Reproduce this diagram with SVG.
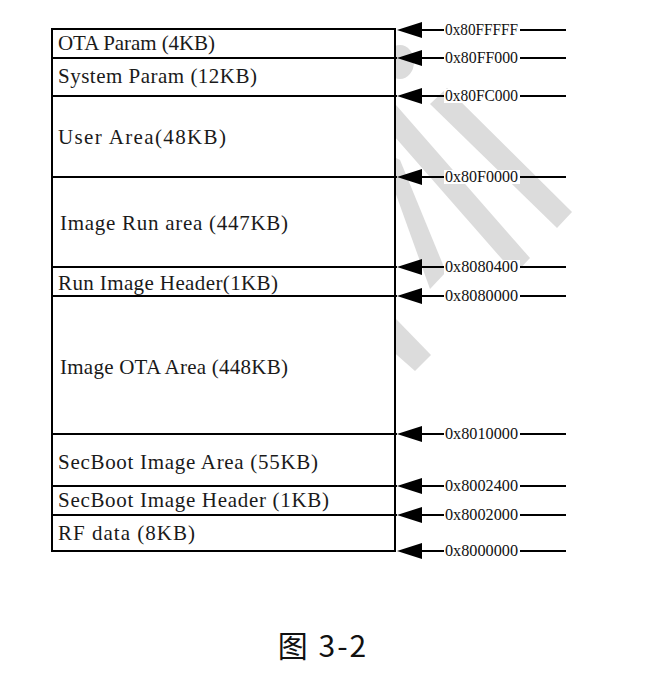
<svg xmlns="http://www.w3.org/2000/svg" width="646" height="678" viewBox="0 0 646 678">
<style>
.wm{fill:#dcdcdc}
.div{stroke:#000;stroke-width:2;fill:none}
.t{font-family:"Liberation Serif",serif;font-size:21px;fill:#1a1a1a}
.lbl{font-family:"Liberation Serif",serif;font-size:17px;fill:#111}
.ln{stroke:#000;stroke-width:2}
.ah{fill:#000}
.bg{fill:#fff}
.cap{font-family:"Noto Sans CJK SC","Noto Sans",sans-serif;font-size:30px;fill:#111;letter-spacing:2px}
</style>
<rect width="646" height="678" fill="#fff"/>
<g id="watermark">
<ellipse class="wm" cx="400" cy="62" rx="14" ry="17"/>
<polygon class="wm" points="430,104 447,88 572,212 557,228"/>
<polygon class="wm" points="380,120 396,105 530,258 515,274"/>
<polygon class="wm" points="380,150 400,160 446,272 430,289"/>
<polygon class="wm" points="380,305 397,320 431,355 415,371 380,340"/>
</g>
<g id="memory-map">
<rect x="52" y="29" width="343" height="522" fill="#fff" stroke="#000" stroke-width="2"/>
<g id="ota-param"><text class="t" x="58" y="50" textLength="157" lengthAdjust="spacing">OTA Param (4KB)</text></g>
<line class="div" x1="52" y1="58" x2="397" y2="58"/>
<g id="system-param"><text class="t" x="58" y="83" textLength="199" lengthAdjust="spacing">System Param (12KB)</text></g>
<line class="div" x1="52" y1="96" x2="397" y2="96"/>
<g id="user-area"><text class="t" x="58" y="144" textLength="168" lengthAdjust="spacing">User Area(48KB)</text></g>
<line class="div" x1="52" y1="177" x2="397" y2="177"/>
<g id="image-run-area"><text class="t" x="60" y="230" textLength="228" lengthAdjust="spacing">Image Run area (447KB)</text></g>
<line class="div" x1="52" y1="267" x2="397" y2="267"/>
<g id="run-image-header"><text class="t" x="58" y="290" textLength="220" lengthAdjust="spacing">Run Image Header(1KB)</text></g>
<line class="div" x1="52" y1="296" x2="397" y2="296"/>
<g id="image-ota-area"><text class="t" x="60" y="374" textLength="228" lengthAdjust="spacing">Image OTA Area (448KB)</text></g>
<line class="div" x1="52" y1="434" x2="397" y2="434"/>
<g id="secboot-image-area"><text class="t" x="58" y="469" textLength="260" lengthAdjust="spacing">SecBoot Image Area (55KB)</text></g>
<line class="div" x1="52" y1="486" x2="397" y2="486"/>
<g id="secboot-image-header"><text class="t" x="58" y="507" textLength="271" lengthAdjust="spacing">SecBoot Image Header (1KB)</text></g>
<line class="div" x1="52" y1="515" x2="397" y2="515"/>
<g id="rf-data"><text class="t" x="58" y="540" textLength="137" lengthAdjust="spacing">RF data (8KB)</text></g>
</g>
<g id="connectors">
<g transform="translate(0,30)"><line class="ln" x1="420" y1="0" x2="566" y2="0"/><rect class="bg" x="444" y="-7" width="76" height="14"/><polygon class="ah" points="397,0 422,-8 422,8"/><text class="lbl" x="445" y="5" textLength="73" lengthAdjust="spacingAndGlyphs">0x80FFFFF</text></g>
<g transform="translate(0,58)"><line class="ln" x1="420" y1="0" x2="566" y2="0"/><rect class="bg" x="444" y="-7" width="76" height="14"/><polygon class="ah" points="397,0 422,-8 422,8"/><text class="lbl" x="445" y="5" textLength="73" lengthAdjust="spacingAndGlyphs">0x80FF000</text></g>
<g transform="translate(0,96)"><line class="ln" x1="420" y1="0" x2="566" y2="0"/><rect class="bg" x="444" y="-7" width="76" height="14"/><polygon class="ah" points="397,0 422,-8 422,8"/><text class="lbl" x="445" y="5" textLength="73" lengthAdjust="spacingAndGlyphs">0x80FC000</text></g>
<g transform="translate(0,177)"><line class="ln" x1="420" y1="0" x2="566" y2="0"/><rect class="bg" x="444" y="-7" width="76" height="14"/><polygon class="ah" points="397,0 422,-8 422,8"/><text class="lbl" x="445" y="5" textLength="73" lengthAdjust="spacingAndGlyphs">0x80F0000</text></g>
<g transform="translate(0,267)"><line class="ln" x1="420" y1="0" x2="566" y2="0"/><rect class="bg" x="444" y="-7" width="76" height="14"/><polygon class="ah" points="397,0 422,-8 422,8"/><text class="lbl" x="445" y="5" textLength="73" lengthAdjust="spacingAndGlyphs">0x8080400</text></g>
<g transform="translate(0,296)"><line class="ln" x1="420" y1="0" x2="566" y2="0"/><rect class="bg" x="444" y="-7" width="76" height="14"/><polygon class="ah" points="397,0 422,-8 422,8"/><text class="lbl" x="445" y="5" textLength="73" lengthAdjust="spacingAndGlyphs">0x8080000</text></g>
<g transform="translate(0,434)"><line class="ln" x1="420" y1="0" x2="566" y2="0"/><rect class="bg" x="444" y="-7" width="76" height="14"/><polygon class="ah" points="397,0 422,-8 422,8"/><text class="lbl" x="445" y="5" textLength="73" lengthAdjust="spacingAndGlyphs">0x8010000</text></g>
<g transform="translate(0,486)"><line class="ln" x1="420" y1="0" x2="566" y2="0"/><rect class="bg" x="444" y="-7" width="76" height="14"/><polygon class="ah" points="397,0 422,-8 422,8"/><text class="lbl" x="445" y="5" textLength="73" lengthAdjust="spacingAndGlyphs">0x8002400</text></g>
<g transform="translate(0,515)"><line class="ln" x1="420" y1="0" x2="566" y2="0"/><rect class="bg" x="444" y="-7" width="76" height="14"/><polygon class="ah" points="397,0 422,-8 422,8"/><text class="lbl" x="445" y="5" textLength="73" lengthAdjust="spacingAndGlyphs">0x8002000</text></g>
<g transform="translate(0,551)"><line class="ln" x1="420" y1="0" x2="566" y2="0"/><rect class="bg" x="444" y="-7" width="76" height="14"/><polygon class="ah" points="397,0 422,-8 422,8"/><text class="lbl" x="445" y="5" textLength="73" lengthAdjust="spacingAndGlyphs">0x8000000</text></g>
</g>
<g id="caption"><text class="cap" x="323" y="657" text-anchor="middle">图 3-2</text></g>
</svg>
